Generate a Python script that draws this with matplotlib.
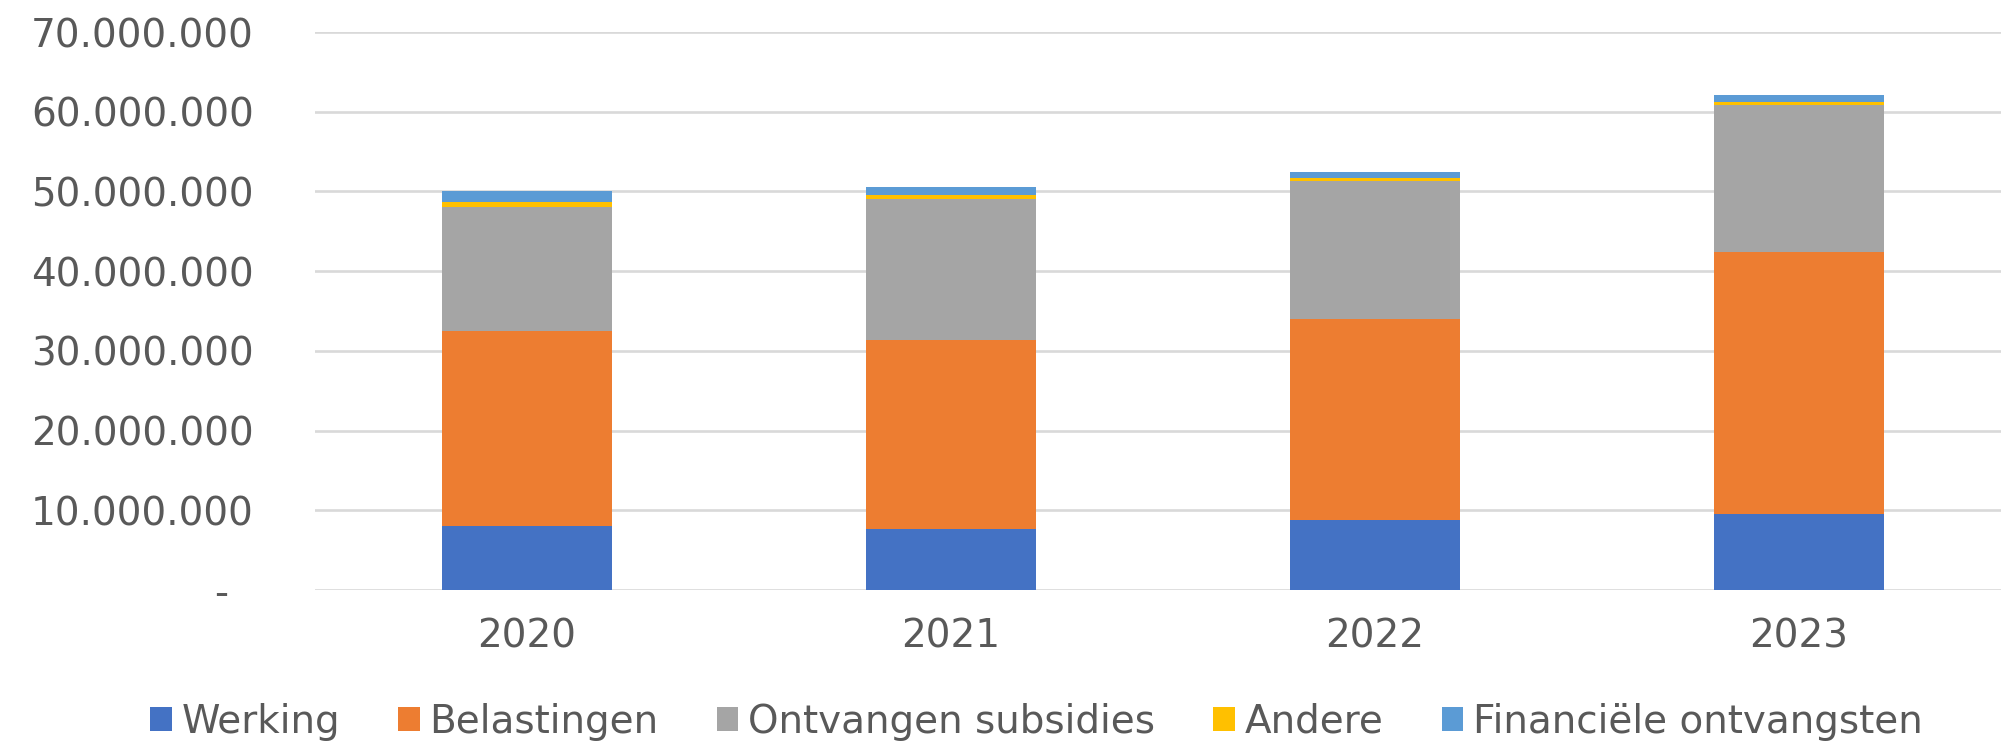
import matplotlib.pyplot as plt
from matplotlib.ticker import FuncFormatter

years = ["2020", "2021", "2022", "2023"]
werking = [8.0e6, 7.7e6, 8.8e6, 9.5e6]
belastingen = [24.5e6, 23.7e6, 25.2e6, 32.9e6]
subsidies = [15.6e6, 17.7e6, 17.3e6, 18.4e6]
andere = [0.55e6, 0.4e6, 0.4e6, 0.4e6]
financieel = [1.35e6, 1.0e6, 0.7e6, 0.9e6]

series = [
    ("Werking", werking, "#4472C4"),
    ("Belastingen", belastingen, "#ED7D31"),
    ("Ontvangen subsidies", subsidies, "#A5A5A5"),
    ("Andere", andere, "#FFC000"),
    ("Financiële ontvangsten", financieel, "#5B9BD5"),
]

fig = plt.figure(figsize=(20.01, 7.41), dpi=100)
ax = fig.add_axes([0.1574, 0.2038, 0.8476, 0.7530])

x = range(len(years))
bottom = [0.0] * len(years)
for name, vals, col in series:
    ax.bar(x, vals, width=0.4, bottom=bottom, color=col, label=name, zorder=3)
    bottom = [b + v for b, v in zip(bottom, vals)]

ax.set_xlim(-0.5, 3.5)
ax.set_ylim(0, 70e6)
ax.set_yticks(range(0, 70000001, 10000000))
ax.set_xticks(list(x))
ax.set_xticklabels(years)


def fmt(v, pos):
    if v == 0:
        return "-  "
    return f"{int(v):,}".replace(",", ".")


ax.yaxis.set_major_formatter(FuncFormatter(fmt))
ax.grid(axis="y", color="#D9D9D9", linewidth=1.9, zorder=0)
for s in ax.spines.values():
    s.set_visible(False)
ax.tick_params(axis="y", length=0, pad=44, labelsize=28, labelcolor="#595959")
ax.tick_params(axis="x", length=0, pad=20, labelsize=28, labelcolor="#595959")

fig.legend(loc="center", bbox_to_anchor=(0.518, 0.026), ncol=5, frameon=False,
           fontsize=28, labelcolor="#595959", handlelength=0.55, handleheight=0.55,
           handletextpad=0.25, columnspacing=1.5, borderpad=0)

fig.savefig("out.png", dpi=100)
